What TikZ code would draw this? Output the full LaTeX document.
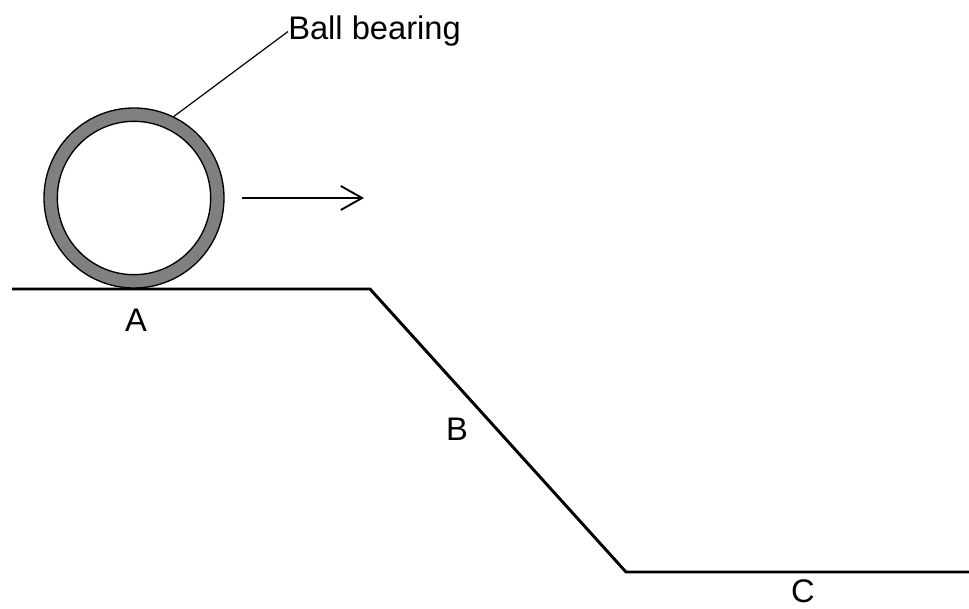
\documentclass[tikz,border=0pt]{standalone}
\usepackage{fontspec}
\setmainfont{Liberation Sans}
\usetikzlibrary{positioning,arrows.meta}
\definecolor{cRing}{HTML}{808080}

\begin{document}
\begin{tikzpicture}[
  x=0.75pt,y=-0.75pt,
  font=\fontsize{24.5}{28}\selectfont,
  track/.style={line width=2.2pt,line join=miter},
  ring/.style={circle,draw,line width=1pt,inner sep=0pt},
  lbl/.style={inner sep=0pt},
  leader/.style={line width=0.9pt},
  ar/.style={-{Straight Barb[length=16pt,width=18pt,line width=1.4pt]},line width=1.4pt}
]
\useasboundingbox (0,0) rectangle (969,609);
% track
\coordinate (t0) at (12,289);
\coordinate (t1) at (370,289);
\coordinate (t2) at (626,572);
\coordinate (t3) at (969,572);
\draw[track] (t0) -- (t1) -- (t2) -- (t3);
% ball bearing
\node[ring,fill=cRing,minimum size=135pt] (ball) at (134,198) {};
\node[ring,fill=white,minimum size=115pt] (hole) at (ball) {};
\node[lbl,anchor=base west] (name) at (288,40) {Ball bearing};
\draw[leader] (ball.64) -- (name.west);
% motion
\coordinate (arS) at (242,198);
\coordinate (arE) at (364,198);
\draw[ar] (arS) -- (arE);
% points
\node[lbl] (A) at (136,320) {A};
\node[lbl] (B) at (457,429) {B};
\node[lbl] (C) at (803,591) {C};
\end{tikzpicture}
\end{document}
